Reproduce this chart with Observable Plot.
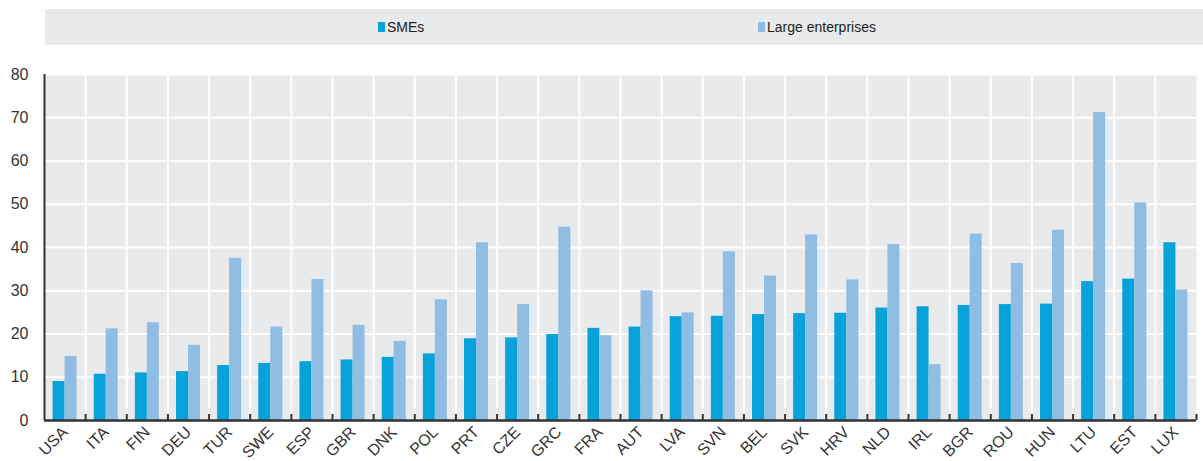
<!DOCTYPE html>
<html>
<head>
<meta charset="utf-8">
<script src="https://cdn.jsdelivr.net/npm/d3@7"></script>
<script src="https://cdn.jsdelivr.net/npm/@observablehq/plot@0.6"></script>
<style>
  html, body { margin: 0; padding: 0; background: #fff; }
  body { width: 1203px; height: 461px; overflow: hidden; font-family: "Liberation Sans Narrow", "Arial Narrow", "Liberation Sans", Arial, sans-serif; }
  #legend { position: relative; margin: 9px 0 0 45px; width: 1158px; height: 36px; background: #e9eaec; font-size: 14px; color: #222; }
  .item { position: absolute; top: 10px; display: flex; align-items: center; gap: 2px; }
  .sw { display: inline-block; width: 7px; height: 10px; }
  #chart svg { display: block; }
</style>
</head>
<body>
<div id="legend">
  <div class="item" style="left:333px"><span class="sw" style="background:#06a2d9"></span><span>SMEs</span></div>
  <div class="item" style="left:713px"><span class="sw" style="background:#90bde2"></span><span>Large enterprises</span></div>
</div>
<div id="chart"></div>
<script>
const countries = ["USA","ITA","FIN","DEU","TUR","SWE","ESP","GBR","DNK","POL","PRT","CZE","GRC","FRA","AUT","LVA","SVN","BEL","SVK","HRV","NLD","IRL","BGR","ROU","HUN","LTU","EST","LUX"];
const smes  = [9.0,10.7,11.0,11.3,12.7,13.2,13.6,14.0,14.6,15.4,18.9,19.1,19.9,21.3,21.6,24.0,24.1,24.5,24.7,24.8,26.0,26.3,26.6,26.8,26.9,32.1,32.7,41.1];
const large = [14.8,21.2,22.6,17.4,37.5,21.6,32.6,22.0,18.3,27.9,41.1,26.8,44.7,19.6,30.0,24.9,39.0,33.4,42.9,32.5,40.7,12.9,43.1,36.3,44.0,71.2,50.3,30.2];
const yTicks = [0,10,20,30,40,50,60,70,80];

const data = countries.map((c, i) => ({country: c, sme: smes[i], large: large[i]}));

const W = 1203, H = 416, mL = 44, mR = 7, mT = 29, mB = 41;
const bw = (W - mL - mR) / countries.length;
const barW = 12;
const side = (bw - 2 * barW) / 2;

const chart = Plot.plot({
  width: W, height: H,
  marginLeft: mL, marginRight: mR, marginTop: mT, marginBottom: mB,
  style: {fontFamily: "'Liberation Sans Narrow', 'Arial Narrow', 'Liberation Sans', sans-serif", color: "#333", background: "transparent"},
  x: {domain: countries, padding: 0, round: false, label: null},
  y: {domain: [0, 80], label: null},
  marks: [
    Plot.frame({fill: "#e9eaec"}),
    Plot.ruleY(yTicks, {stroke: "white", strokeWidth: 2}),
    Plot.ruleX(countries.slice(1), {x: d => d, dx: -bw / 2, stroke: "white", strokeWidth: 2}),
    Plot.rectY(data, {x: "country", y: "sme", fill: "#06a2d9", insetLeft: side, insetRight: side + barW}),
    Plot.rectY(data, {x: "country", y: "large", fill: "#90bde2", insetLeft: side + barW, insetRight: side}),
    Plot.ruleX(countries.slice(1), {x: d => d, dx: -bw / 2, y1: 0, y2: 1.4, stroke: "#333", strokeWidth: 2}),
    Plot.ruleX([countries[countries.length - 1]], {dx: bw / 2, y1: 0, y2: 1.4, stroke: "#333", strokeWidth: 2}),
    Plot.ruleY(yTicks, {x1: countries[0], x2: countries[0], insetRight: bw - 4, stroke: "#333", strokeWidth: 2}),
    Plot.ruleX([countries[0]], {dx: -bw / 2, y1: 0, y2: 80, stroke: "#333", strokeWidth: 2}),
    Plot.ruleY([0], {stroke: "#333", strokeWidth: 2.5}),
    Plot.axisY({ticks: yTicks, tickSize: 0, tickPadding: 16, fontSize: 16, label: null}),
    Plot.axisX({tickSize: 0, tickRotate: -45, tickPadding: 9, fontSize: 16, label: null})
  ]
});
document.getElementById("chart").appendChild(chart);
</script>
</body>
</html>
